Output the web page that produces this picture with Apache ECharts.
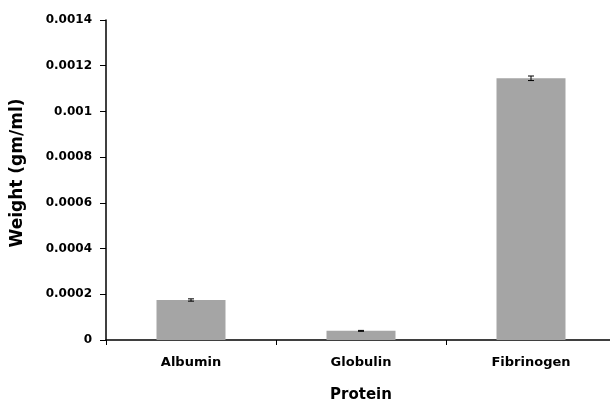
<!DOCTYPE html>
<html><head><meta charset="utf-8">
<script src="https://cdn.jsdelivr.net/npm/echarts@6/dist/echarts.min.js"></script>
<style>html,body{margin:0;padding:0;background:#fff}#c{width:610px;height:404px}</style>
</head><body><div id="c"></div>
<script>
const categories = ['Albumin', 'Globulin', 'Fibrinogen'];
const weights = [0.000175, 0.000040, 0.001145];
const errors = [0.000005, 0.000002, 0.000010];
const yTicks = [0, 0.0002, 0.0004, 0.0006, 0.0008, 0.001, 0.0012, 0.0014];

const font = 'DejaVu Sans, Arial, sans-serif';
const chart = echarts.init(document.getElementById('c'));
chart.setOption({
  animation: false,
  grid: {left: 106, top: 20, width: 510, height: 320, containLabel: false, outerBoundsMode: 'none'},
  xAxis: {
    type: 'category', data: categories,
    axisLine: {lineStyle: {color: '#000', width: 1.5}},
    axisTick: {show: true, alignWithLabel: false, length: 5, lineStyle: {color: '#000'}},
    axisLabel: {color: '#000', fontFamily: font, fontWeight: 'bold', fontSize: 13, margin: 16},
    name: 'Protein', nameLocation: 'middle', nameGap: 48,
    nameTextStyle: {color: '#000', fontFamily: font, fontWeight: 'bold', fontSize: 15}
  },
  yAxis: {
    type: 'value', min: 0, max: 0.0014, interval: 0.0002,
    axisLine: {show: true, lineStyle: {color: '#000', width: 1.5}},
    axisTick: {show: true, length: 6, lineStyle: {color: '#000'}},
    splitLine: {show: false},
    axisLabel: {color: '#000', fontFamily: font, fontWeight: 'bold', fontSize: 12, margin: 14,
      formatter: v => { const t = yTicks.find(x => Math.abs(x - v) < 1e-9); return String(+(t ?? v).toFixed(4)); }},
    name: 'Weight (gm/ml)', nameLocation: 'middle', nameGap: 80, nameRotate: 90,
    nameTextStyle: {color: '#000', fontFamily: font, fontWeight: 'bold', fontSize: 17, padding: [0, 0, 0, 14]}
  },
  series: [
    {type: 'bar', data: weights, barWidth: 69, itemStyle: {color: '#a5a5a5'}},
    {type: 'custom', data: weights.map((w, i) => [i, w - errors[i], w + errors[i]]),
      renderItem: (params, api) => {
        const lo = api.coord([api.value(0), api.value(1)]);
        const hi = api.coord([api.value(0), api.value(2)]);
        const x = lo[0], hw = 3;
        const st = {stroke: '#000', lineWidth: 1};
        return {type: 'group', children: [
          {type: 'line', shape: {x1: x, y1: lo[1], x2: x, y2: hi[1]}, style: st},
          {type: 'line', shape: {x1: x - hw, y1: lo[1], x2: x + hw, y2: lo[1]}, style: st},
          {type: 'line', shape: {x1: x - hw, y1: hi[1], x2: x + hw, y2: hi[1]}, style: st}
        ]};
      }, z: 5}
  ]
});
</script></body></html>
